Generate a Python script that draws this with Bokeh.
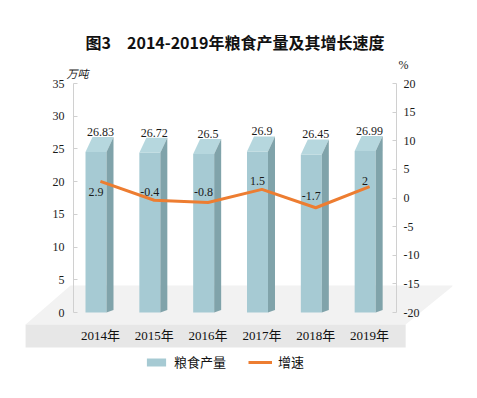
from bokeh.plotting import figure
from bokeh.models import (Range1d, LinearAxis, FixedTicker, ColumnDataSource,
                          Label, Legend, LegendItem)
from bokeh.core.properties import value
from bokeh.embed import file_html
from bokeh.resources import INLINE

# ---- data ----
years = ["2014年", "2015年", "2016年", "2017年", "2018年", "2019年"]
grain_output = [26.83, 26.72, 26.5, 26.9, 26.45, 26.99]   # 万吨
growth_rate = [2.9, -0.4, -0.8, 1.5, -1.7, 2]              # %
left_ticks = [0, 5, 10, 15, 20, 25, 30, 35]
right_ticks = [-20, -15, -10, -5, 0, 5, 10, 15, 20]

# ---- layout / style (not data) ----
W, H = 477, 398
BL, BR, BT, BB = 24, 25, 0, 22          # borders -> frame box
AX_L, AX_R, AX_TOP, AX_BOT = 73, 396, 83, 312   # pixel box of the value axes
n = len(years)
fx0, fx1, fy0, fy1 = BL, W - BR, BT, H - BB
ux = (AX_R - AX_L) / n
uy = (AX_BOT - AX_TOP) / (left_ticks[-1] - left_ticks[0])
up = (AX_BOT - AX_TOP) / (right_ticks[-1] - right_ticks[0])
x_range = Range1d((fx0 - AX_L) / ux, n + (fx1 - AX_R) / ux)
y_range = Range1d(left_ticks[0] - (fy1 - AX_BOT) / uy, left_ticks[-1] + (AX_TOP - fy0) / uy)
p_range = Range1d(right_ticks[0] - (fy1 - AX_BOT) / up, right_ticks[-1] + (AX_TOP - fy0) / up)

growth_label_dy = [11, -8, -11, -8, -12, -6]
FL, FR, DX, DY = -0.277, 0.113, 0.13, 2.29
FRONT, TOP, SIDE = "#a6cad3", "#b6d7de", "#80a3aa"
ORANGE = "#ED7D31"
SERIF = "Liberation Serif"
CJK = "Noto Sans CJK SC"
AX = "#d0d0d0"
TXT = "#1a1a1a"

xc = [i + 0.5 for i in range(n)]

p = figure(width=W, height=H, output_backend="svg", toolbar_location=None,
           x_range=x_range, y_range=y_range, title=None,
           min_border_left=BL, min_border_right=BR, min_border_top=BT, min_border_bottom=BB)
p.extra_y_ranges = {"pct": p_range}
p.background_fill_color = "white"
p.border_fill_color = "white"
p.outline_line_color = None
p.xgrid.visible = False
p.ygrid.visible = False

# 3D floor (decoration)
p.patch([-0.056, 7.06, 6.17, -0.89], [4.13, 4.13, -1.83, -1.83],
        fill_color="#f2f2f2", line_color=None)
p.patch([-0.89, 6.17, 6.17, -0.89], [-1.83, -1.83, -5.35, -5.35],
        fill_color="#e7e7e7", line_color=None)

# bars (3D look)
front_src = ColumnDataSource(dict(left=[c + FL for c in xc], right=[c + FR for c in xc],
                                  top=[v - DY for v in grain_output], bottom=[0] * n))
front_r = p.quad(left="left", right="right", top="top", bottom="bottom", source=front_src,
                 fill_color=FRONT, line_color=None)
top_xs = [[c + FL, c + FR, c + FR + DX, c + FL + DX] for c in xc]
top_ys = [[v - DY, v - DY, v, v] for v in grain_output]
p.patches(top_xs, top_ys, fill_color=TOP, line_color=None)
side_xs = [[c + FR, c + FR + DX, c + FR + DX, c + FR] for c in xc]
side_ys = [[0, 0.4, v, v - DY] for v in grain_output]
p.patches(side_xs, side_ys, fill_color=SIDE, line_color=None)

# bar value labels
p.text(x=xc, y=grain_output, text=[f"{v:g}" for v in grain_output], y_offset=-1,
       text_align="center", text_baseline="bottom", text_font=value(SERIF),
       text_font_size="12px", text_color=TXT)

# growth line
line_r = p.line(xc, growth_rate, y_range_name="pct", line_color=ORANGE, line_width=3)
p.text(x=xc, y=growth_rate, text=[f"{v:g}" for v in growth_rate], y_range_name="pct",
       x_offset=-4.5, y_offset=growth_label_dy, text_align="center", text_baseline="middle",
       text_font=value(SERIF), text_font_size="12px", text_color=TXT)

# x axis (years on the floor front)
p.xaxis.ticker = FixedTicker(ticks=xc)
p.xaxis.major_label_overrides = {c: y for c, y in zip(xc, years)}
p.xaxis.fixed_location = -(321 - AX_BOT) / uy
p.xaxis.axis_line_color = None
p.xaxis.major_tick_line_color = None
p.xaxis.minor_tick_line_color = None
p.xaxis.major_label_standoff = 0
p.xaxis.major_label_text_font = "'Liberation Serif', 'Noto Sans CJK SC'"
p.xaxis.major_label_text_font_size = "13px"
p.xaxis.major_label_text_color = "#111111"

# left axis
p.yaxis.ticker = FixedTicker(ticks=left_ticks)
p.yaxis.major_label_overrides = {t: str(t) for t in left_ticks}
p.yaxis.fixed_location = 0
p.yaxis.bounds = (left_ticks[0], left_ticks[-1])
p.yaxis.axis_line_color = AX
p.yaxis.major_tick_line_color = AX
p.yaxis.major_tick_in = 4
p.yaxis.major_tick_out = 0
p.yaxis.minor_tick_line_color = None
p.yaxis.major_label_standoff = 9
p.yaxis.major_label_text_font = SERIF
p.yaxis.major_label_text_font_size = "12px"
p.yaxis.major_label_text_color = TXT

# right axis
rax = LinearAxis(y_range_name="pct", ticker=FixedTicker(ticks=right_ticks),
                 major_label_overrides={t: str(t) for t in right_ticks},
                 fixed_location=n, bounds=(right_ticks[0], right_ticks[-1]),
                 axis_line_color=AX, major_tick_line_color=AX, major_tick_in=4,
                 major_tick_out=0, minor_tick_line_color=None, major_label_standoff=7,
                 major_label_text_font=SERIF, major_label_text_font_size="12px",
                 major_label_text_color=TXT)
p.add_layout(rax, "right")

# title & unit labels
p.add_layout(Label(x=n / 2, y=left_ticks[-1] + (AX_TOP - 41) / uy,
                   text="图3\u30002014-2019年粮食产量及其增长速度",
                   text_align="center", text_baseline="middle", text_font=CJK,
                   text_font_size="16px", text_font_style="bold", text_color="#111111"))
p.add_layout(Label(x=(77 - AX_L) / ux, y=left_ticks[-1] + (AX_TOP - 72) / uy, text="万吨",
                   text_align="center", text_baseline="middle",
                   text_font=CJK, text_font_size="11px", text_font_style="italic",
                   text_color="#222222"))
p.add_layout(Label(x=(403 - AX_L) / ux, y=left_ticks[-1] + (AX_TOP - 64) / uy, text="%",
                   text_align="center", text_baseline="middle",
                   text_font=SERIF, text_font_size="12px", text_color="#222222"))

# legend
legend = Legend(items=[LegendItem(label="粮食产量", renderers=[front_r]),
                       LegendItem(label="增速", renderers=[line_r])],
                location=(144 - fx0, fy1 - 371), orientation="horizontal", padding=0, margin=0,
                spacing=22, label_standoff=6, glyph_width=24, glyph_height=10,
                label_text_font=CJK, label_text_font_size="13px",
                label_text_color="#111111", border_line_color=None,
                background_fill_alpha=0)
p.add_layout(legend)

open("out.html", "w").write(file_html(p, INLINE))
